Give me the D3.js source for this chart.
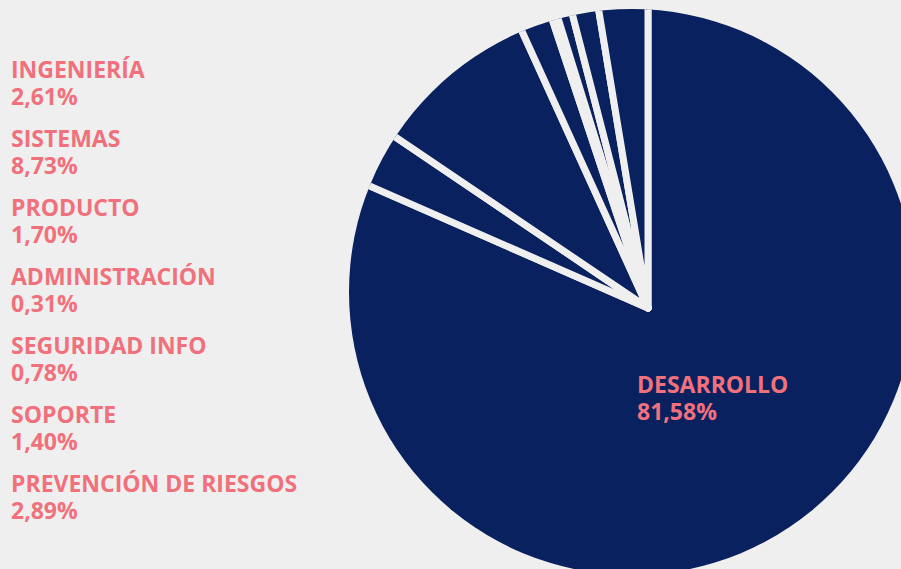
<!DOCTYPE html>
<html>
<head>
<meta charset="utf-8">
<script src="https://cdn.jsdelivr.net/npm/d3@7"></script>
<style>
  html, body { margin: 0; padding: 0; background: #efefef; }
  svg { display: block; }
  text { font-family: "Open Sans", sans-serif; font-weight: 700; fill: #f0717c; }
</style>
</head>
<body>
<svg id="chart" width="901" height="569"></svg>
<script>
// slices in drawing order, clockwise from 12 o'clock
const categories = ["DESARROLLO", "PREVENCIÓN DE RIESGOS", "SISTEMAS", "PRODUCTO",
  "ADMINISTRACIÓN", "SEGURIDAD INFO", "SOPORTE", "INGENIERÍA"];
const values = [81.58, 2.89, 8.73, 1.70, 0.31, 0.78, 1.40, 2.61];
// order of the list on the left
const legendOrder = ["INGENIERÍA", "SISTEMAS", "PRODUCTO", "ADMINISTRACIÓN",
  "SEGURIDAD INFO", "SOPORTE", "PREVENCIÓN DE RIESGOS"];

var bg = "#efefef";
var navy = "#0a2160";
var fontSize = 23;

var locale = d3.formatLocale({ decimal: ",", thousands: ".", grouping: [3], currency: ["", ""] });
var formPct = locale.format(".2f");

var svg = d3.select("#chart");

var data = categories.map(function(c, i) {
  return { name: c, value: values[i] };
});

var cx = 648, cy = 308;

// outline of the pie sits a bit up-left of the slice vertex
svg.append("defs").append("clipPath")
  .attr("id", "pieClip")
  .append("circle")
  .attr("cx", cx - 16)
  .attr("cy", cy - 16)
  .attr("r", 283);

var pie = d3.pie()
  .sort(null)
  .value(function(d) { return d.value; });

var arc = d3.arc()
  .innerRadius(0)
  .outerRadius(420);

var pieG = svg.append("g")
  .attr("clip-path", "url(#pieClip)")
  .append("g")
  .attr("transform", "translate(" + cx + "," + cy + ")");

pieG.selectAll("path")
  .data(pie(data))
  .enter()
  .append("path")
  .attr("d", arc)
  .attr("fill", navy)
  .attr("stroke", bg)
  .attr("stroke-width", 7)
  .attr("stroke-linejoin", "round");

// label of the big slice
var big = data[0];
var bigG = svg.append("g").attr("transform", "translate(637,393)");
bigG.append("text").attr("font-size", fontSize).text(big.name);
bigG.append("text").attr("y", 27).attr("font-size", fontSize).text(formPct(big.value) + "%");

// list on the left
var yLegend = d3.scalePoint()
  .domain(legendOrder)
  .range([78, 492]);

var legend = svg.selectAll("g.legend")
  .data(legendOrder.map(function(n) {
    return data.find(function(d) { return d.name == n; });
  }))
  .enter()
  .append("g")
  .attr("class", "legend")
  .attr("transform", function(d) { return "translate(11," + yLegend(d.name) + ")"; });

legend.append("text")
  .attr("font-size", fontSize)
  .text(function(d) { return d.name; });

legend.append("text")
  .attr("y", 27)
  .attr("font-size", fontSize)
  .text(function(d) { return formPct(d.value) + "%"; });
</script>
</body>
</html>
